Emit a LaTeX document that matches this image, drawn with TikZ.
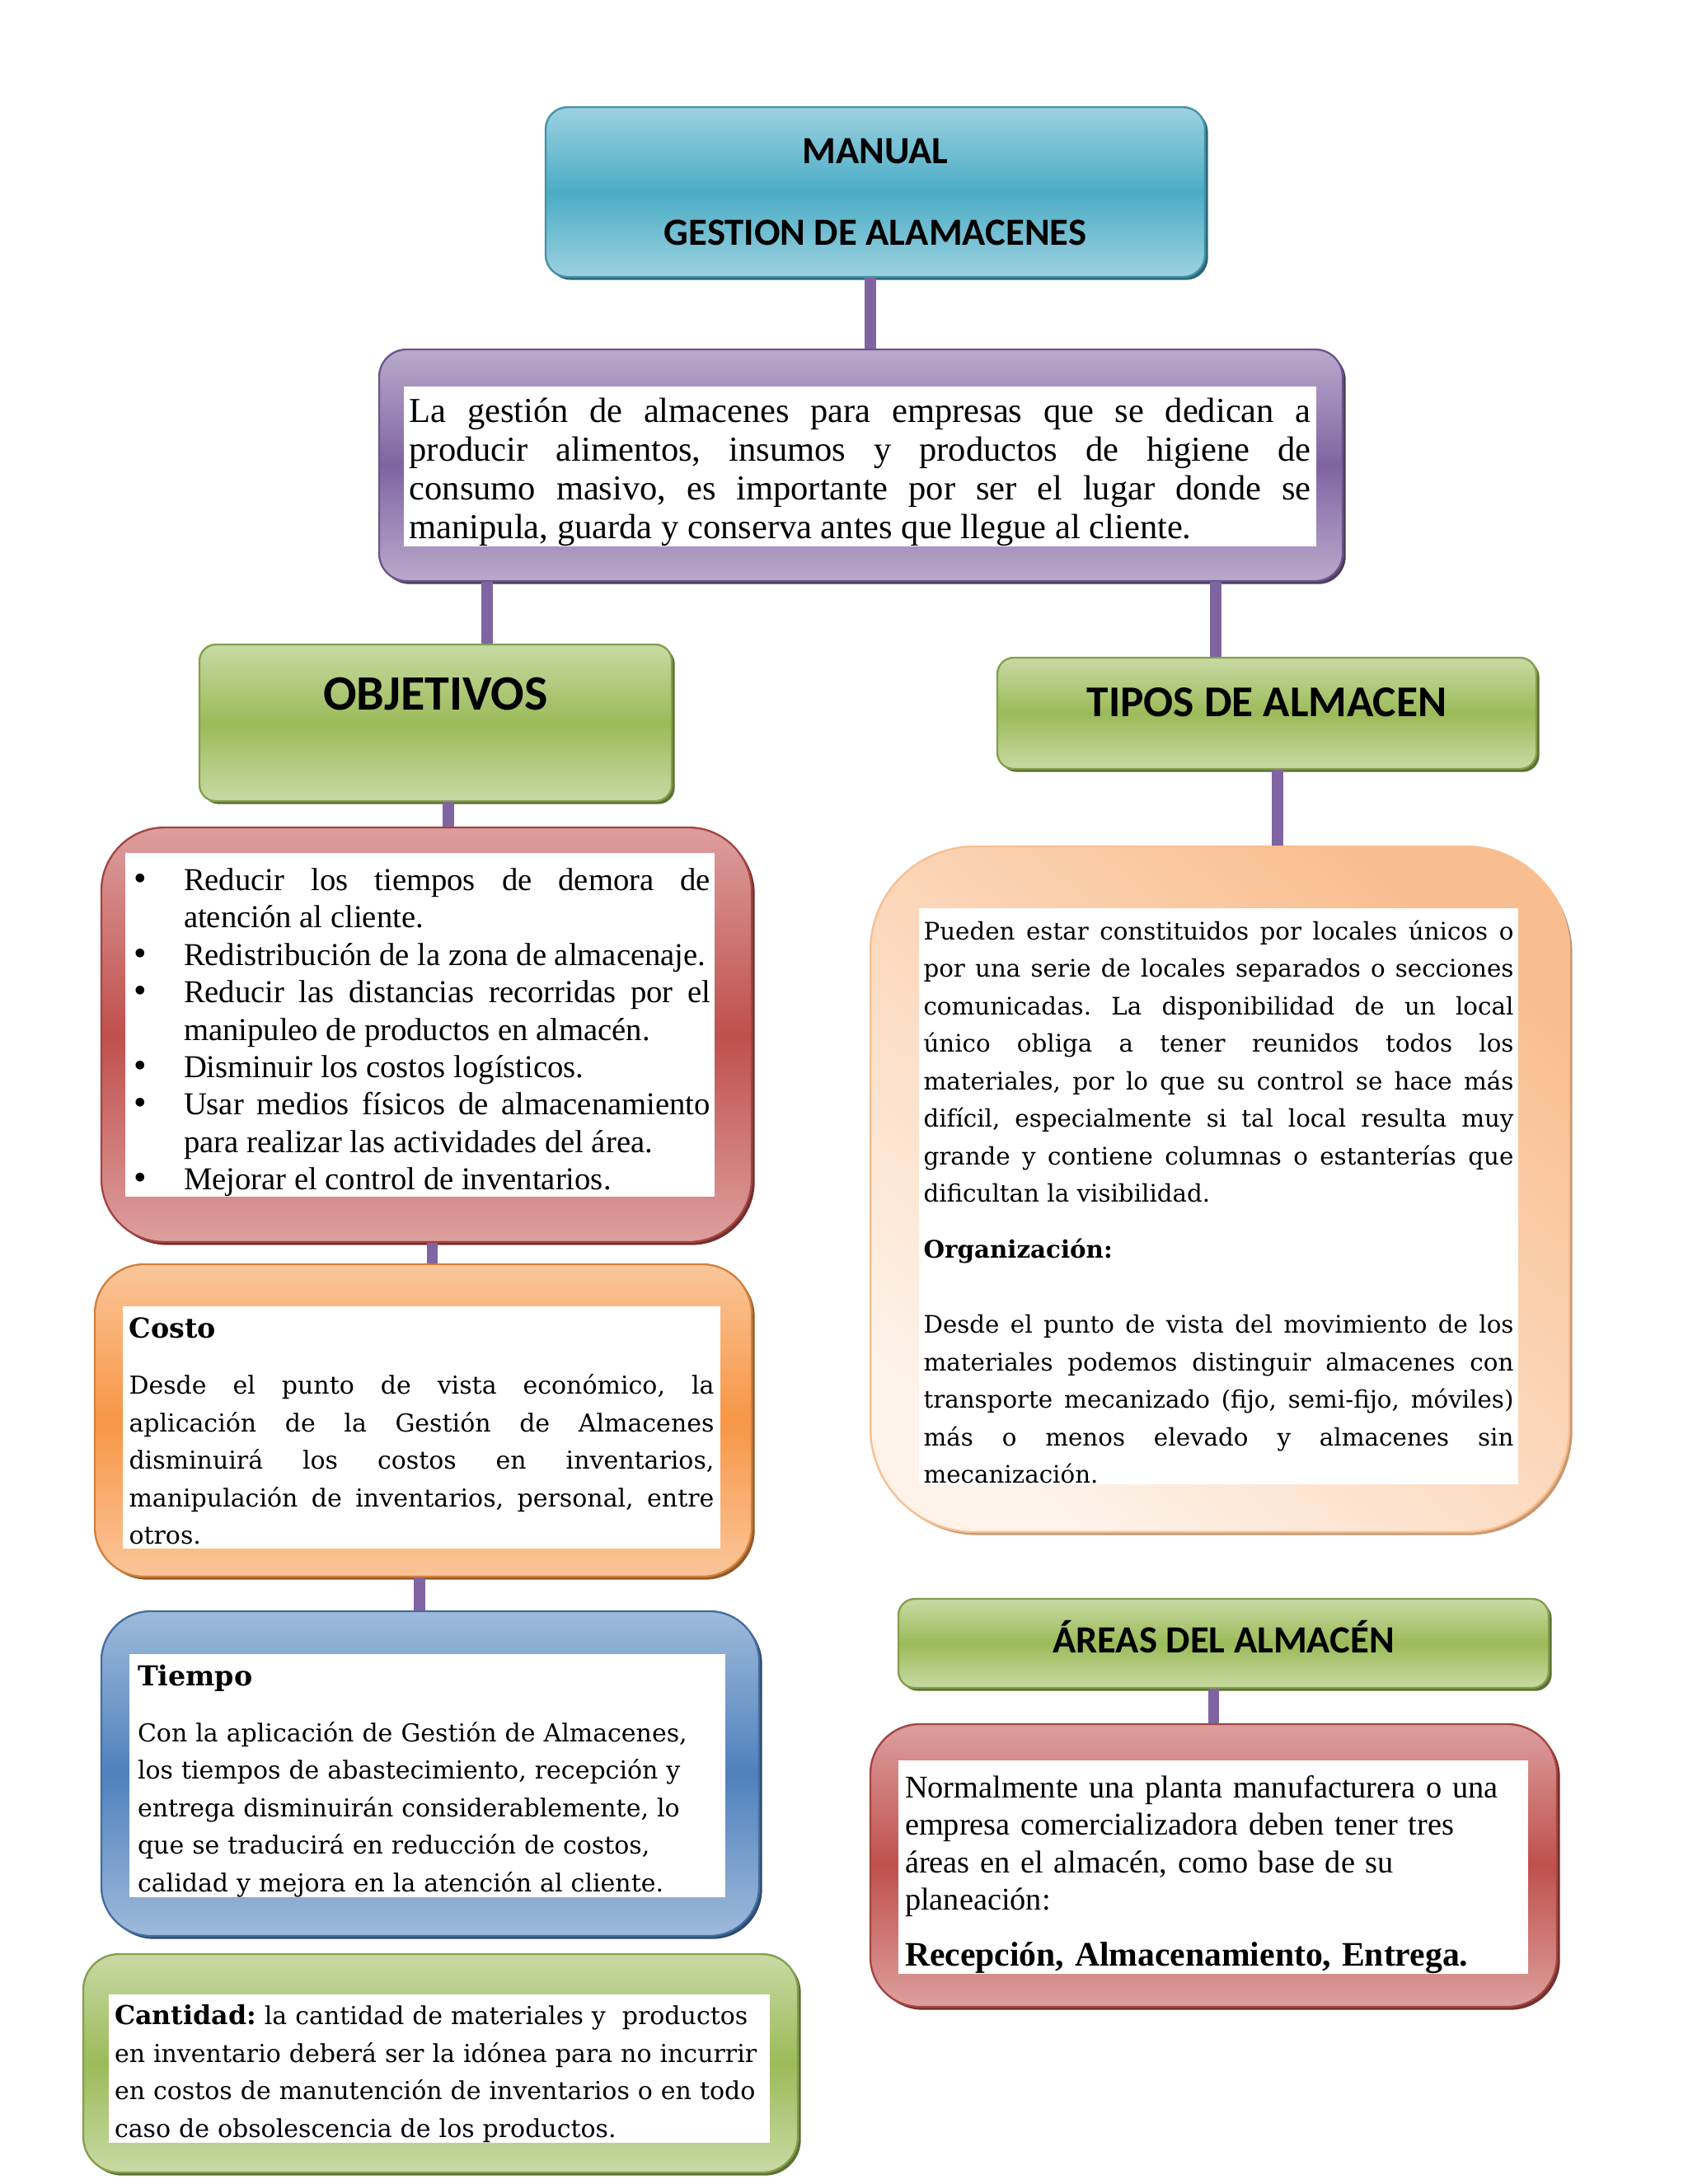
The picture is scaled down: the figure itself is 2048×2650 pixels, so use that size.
\documentclass[tikz,border=0pt]{standalone}
\usepackage{fontspec}
\setmainfont{Liberation Serif}
\newfontfamily\headfont{Carlito}
\newfontfamily\widefont{DejaVu Serif}
\usetikzlibrary{shadows}
\definecolor{tealc}{HTML}{4BACC6}
\definecolor{purplec}{HTML}{8064A2}
\definecolor{greenc}{HTML}{9BBB59}
\definecolor{redc}{HTML}{C0504D}
\definecolor{orangec}{HTML}{F79646}
\definecolor{bluec}{HTML}{4F81BD}
\definecolor{peachc}{HTML}{F9BE8F}
\setlength{\parindent}{0pt}
\setlength{\parskip}{0pt}
\frenchspacing
\hyphenpenalty=10000 \exhyphenpenalty=10000 \tolerance=9999
\tikzset{
box/.style 2 args={draw=#1!85!black, line width=0.7pt, rounded corners=#2,
	top color=#1!55!white, bottom color=#1!55!white, middle color=#1,
	drop shadow={shadow xshift=1.1pt, shadow yshift=-1.1pt, fill=#1!60!black, opacity=1}},
softbox/.style={draw=peachc, line width=0.7pt, rounded corners=38pt,
	top color=peachc, bottom color=peachc!20!white, shading angle=-40,
	drop shadow={shadow xshift=1.1pt, shadow yshift=-1.1pt, fill=peachc!80!black, opacity=1}},
head/.style={box={greenc}{6pt}, font=\headfont\bfseries\fontsize{#1}{#1}\selectfont},
txt/.style={fill=white, inner ysep=0pt, align=justify},
lift/.style={execute at begin node={\rule{0pt}{#1}}},
link/.style={draw=purplec, line width=4pt}
}
\newcommand{\objitem}[1]{\par\noindent\hangindent=19.8pt\hangafter=1%
	\makebox[19.8pt][l]{\hspace{1.5pt}\scalebox{1.15}{\textbullet}}#1}
\newcommand{\boxtitle}[1]{{\fontsize{10pt}{13.65pt}\selectfont\bfseries #1}}

\begin{document}
\begin{tikzpicture}[x=0.3pt, y=-0.3pt]
	\useasboundingbox (0,0) rectangle (2048,2650);
	\node[box={tealc}{8pt}, minimum width=240pt, minimum height=61.8pt, align=center,
		font=\headfont\bfseries\fontsize{14pt}{29.7pt}\selectfont] (manual) at (1062,233)
		{MANUAL\\GESTION DE ALAMACENES};
	\node[box={purplec}{10pt}, minimum width=350.7pt, minimum height=84.3pt] (intro) at (1044.5,564.5) {};
	\node[txt, lift=13pt, text width=328.1pt, inner xsep=2pt, minimum height=55.8pt,
		font=\fontsize{12.75pt}{14.1pt}\selectfont] (introtxt) at (1043.5,566)
		{La gestión de almacenes para empresas que se dedican a\linebreak
		producir alimentos, insumos y productos de higiene de\linebreak
		consumo masivo, es importante por ser el lugar donde se\linebreak
		manipula, guarda y conserva antes que llegue al cliente.};
	% left branch
	\node[head=18pt, minimum width=171.9pt, minimum height=57pt, text depth=21pt] (obj) at (528.5,877) {OBJETIVOS};
	\node[box={redc}{23pt}, minimum width=236.7pt, minimum height=150.9pt] (objlist) at (517.5,1255.5) {};
	\node[txt, text width=211.5pt, inner xsep=1.5pt, minimum height=122.7pt,
		font=\fontsize{11.6pt}{13.63pt}\selectfont] (objtxt) at (509.5,1243.5)
		{\objitem{Reducir los tiempos de demora de\linebreak atención al cliente.}
		\objitem{Redistribución de la zona de almacenaje.}
		\objitem{Reducir las distancias recorridas por el\linebreak manipuleo de productos en almacén.}
		\objitem{Disminuir los costos logísticos.}
		\objitem{Usar medios físicos de almacenamiento\linebreak para realizar las actividades del área.}
		\objitem{Mejorar el control de inventarios.}};
	\node[box={orangec}{18pt}, minimum width=239.1pt, minimum height=113.7pt] (costo) at (513.5,1723.5) {};
	\node[txt, lift=10pt, text width=213pt, inner xsep=2.25pt, minimum height=88.2pt,
		font=\widefont\fontsize{9pt}{13.65pt}\selectfont] (costotxt) at (511.5,1732)
		{\boxtitle{Costo}\par\vspace{6.8pt}Desde el punto de vista económico, la\linebreak
		aplicación de la Gestión de Almacenes\linebreak
		disminuirá los costos en inventarios,\linebreak
		manipulación de inventarios, personal, entre\linebreak otros.};
	\node[box={bluec}{18pt}, minimum width=239.4pt, minimum height=118.2pt] (tiempo) at (522,2152) {};
	\node[txt, lift=11.5pt, align=left, text width=210.9pt, inner xsep=3pt, minimum height=88.5pt,
		font=\widefont\fontsize{9pt}{13.65pt}\selectfont] (tiempotxt) at (518.5,2154.5)
		{\boxtitle{Tiempo}\\[6.8pt]Con la aplicación de Gestión de Almacenes,\\
		los tiempos de abastecimiento, recepción y\\
		entrega disminuirán considerablemente, lo\\
		que se traducirá en reducción de costos,\\
		calidad y mejora en la atención al cliente.};
	\node[box={greenc}{13pt}, minimum width=260.1pt, minimum height=79.5pt] (cantidad) at (534.5,2503.5) {};
	\node[txt, lift=11pt, align=left, text width=236.4pt, inner xsep=2.1pt, minimum height=53.4pt,
		font=\widefont\fontsize{9pt}{13.65pt}\selectfont] (cantidadtxt) at (533,2510)
		{{\fontsize{9.5pt}{13.65pt}\selectfont\bfseries Cantidad:} la cantidad de materiales y\ \ productos\\
		en inventario deberá ser la idónea para no incurrir\\
		en costos de manutención de inventarios o en todo\\
		caso de obsolescencia de los productos.};
	% right branch
	\node[head=16pt, minimum width=196.2pt, minimum height=40.5pt, text depth=8pt] (tipos) at (1537,865.5) {TIPOS DE ALMACEN};
	\node[softbox, minimum width=254.4pt, minimum height=249.6pt] (tiposbox) at (1480,1443) {};
	\node[txt, lift=11.3pt, text width=214.8pt, inner xsep=1.65pt, minimum height=209.7pt,
		font=\widefont\fontsize{8.8pt}{13.65pt}\selectfont] (tipostxt) at (1478.5,1451.5)
		{Pueden estar constituidos por locales únicos o\linebreak
		por una serie de locales separados o secciones\linebreak
		comunicadas. La disponibilidad de un local\linebreak
		único obliga a tener reunidos todos los\linebreak
		materiales, por lo que su control se hace más\linebreak
		difícil, especialmente si tal local resulta muy\linebreak
		grande y contiene columnas o estanterías que\linebreak
		dificultan la visibilidad.\par\vspace{6.8pt}
		\textbf{Organización:}\par\vspace{13.65pt}
		Desde el punto de vista del movimiento de los\linebreak
		materiales podemos distinguir almacenes con\linebreak
		transporte mecanizado (fijo, semi-fijo, móviles)\linebreak
		más o menos elevado y almacenes sin\linebreak mecanización.};
	\node[head=14pt, minimum width=236.7pt, minimum height=32.4pt, text depth=5pt] (areas) at (1484.5,1994) {ÁREAS DEL ALMACÉN};
	\node[box={redc}{18pt}, minimum width=249.9pt, minimum height=102.9pt] (areasbox) at (1472.5,2263.5) {};
	\node[txt, lift=13.6pt, align=left, text width=224.4pt, inner xsep=2.4pt, minimum height=73.5pt,
		font=\fontsize{11.5pt}{13.65pt}\selectfont] (areastxt) at (1472,2265.5)
		{Normalmente una planta manufacturera o una\\
		empresa comercializadora deben tener tres\\
		áreas en el almacén, como base de su\\
		planeación:\\[6.8pt]{\fontsize{12.5pt}{13.65pt}\selectfont\bfseries Recepción, Almacenamiento, Entrega.}};
	% connectors
	\draw[link] ([xshift=-1.8pt]manual.south) -- ([xshift=-1.8pt]manual.south |- intro.north);
	\draw[link] ([xshift=18.75pt]obj.north |- intro.south) -- ([xshift=18.75pt]obj.north);
	\draw[link] ([xshift=-18.6pt]tipos.north |- intro.south) -- ([xshift=-18.6pt]tipos.north);
	\draw[link] ([xshift=4.65pt]obj.south) -- ([xshift=4.65pt]obj.south |- objlist.north);
	\draw[link] ([xshift=2pt]objlist.south) -- ([xshift=2pt]objlist.south |- costo.north);
	\draw[link] ([xshift=-1.35pt]costo.south) -- ([xshift=-1.35pt]costo.south |- tiempo.north);
	\draw[link] ([xshift=3.9pt]tipos.south) -- ([xshift=3.9pt]tipos.south |- tiposbox.north);
	\draw[link] (areas.south -| areasbox.north) -- (areasbox.north);
\end{tikzpicture}
\end{document}
